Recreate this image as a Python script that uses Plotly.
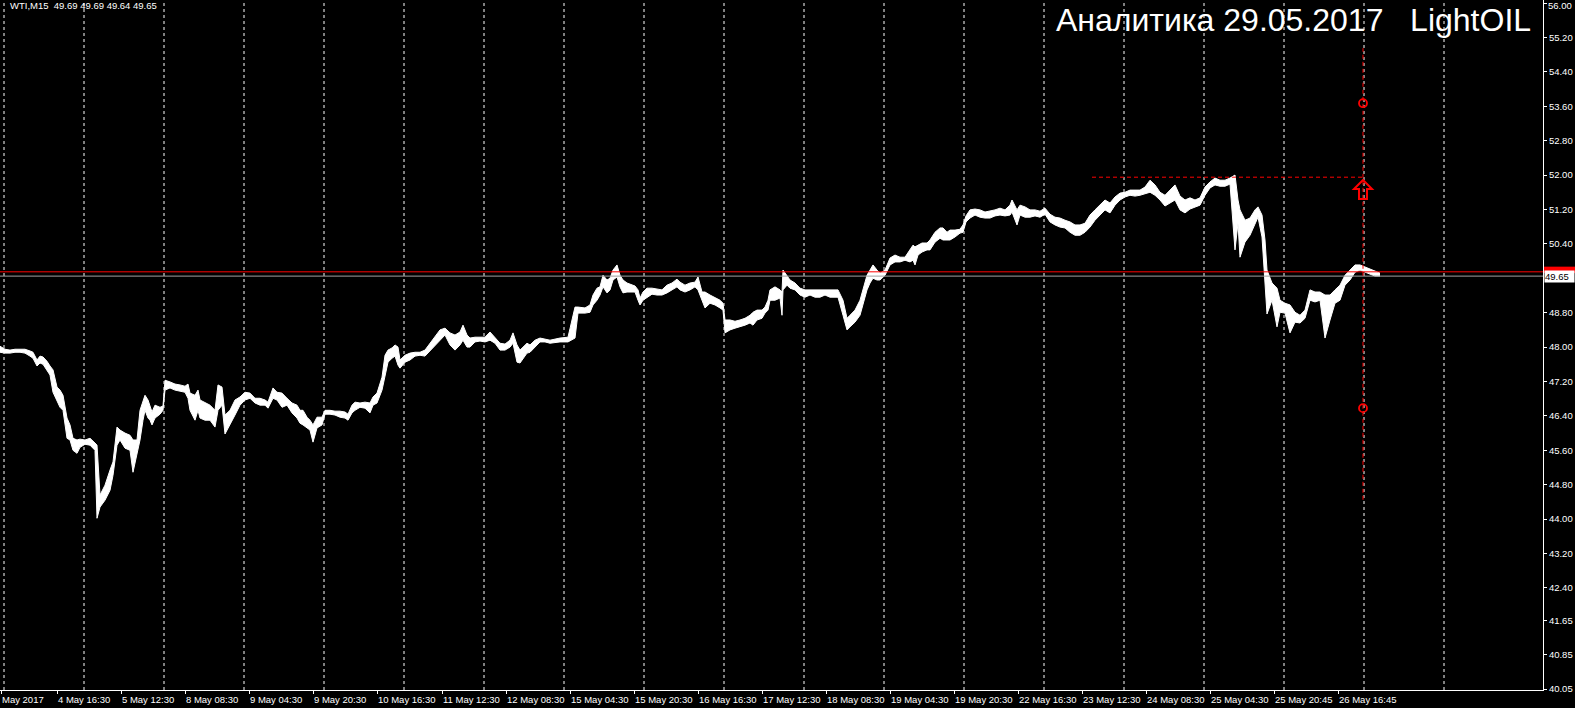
import plotly.graph_objects as go

# ---------------- data (bar index, high, low) ----------------
bar = [
    0, 5, 10, 15, 20, 25, 30, 33, 37, 40,
    43, 47, 50, 53, 57, 60, 63, 67, 70, 73,
    77, 80, 85, 90, 95, 97, 100, 105, 110, 113,
    117, 120, 125, 130, 133, 137, 140, 143, 145, 148,
    150, 152, 155, 160, 163, 165, 170, 175, 180, 185,
    188, 190, 195, 198, 200, 205, 210, 215, 218, 222,
    225, 230, 235, 240, 245, 250, 255, 260, 265, 268,
    273, 277, 282, 287, 292, 297, 300, 303, 307, 310,
    313, 317, 322, 325, 330, 335, 340, 345, 348, 352,
    355, 360, 365, 370, 373, 377, 382, 385, 388, 392,
    395, 398, 400, 405, 410, 415, 420, 425, 430, 435,
    440, 445, 450, 455, 460, 463, 467, 470, 475, 480,
    485, 490, 495, 500, 505, 510, 513, 517, 520, 523,
    527, 530, 535, 540, 545, 550, 560, 568, 575, 578,
    585, 590, 593, 597, 600, 603, 607, 610, 613, 617,
    620, 623, 627, 632, 635, 638, 640, 643, 647, 652,
    657, 662, 667, 672, 677, 680, 685, 690, 695, 698,
    702, 705, 710, 715, 720, 723, 725, 730, 735, 740,
    745, 750, 753, 757, 762, 765, 768, 770, 775, 780,
    782, 783, 787, 790, 795, 800, 805, 810, 815, 820,
    825, 830, 838, 843, 847, 850, 855, 860, 863, 867,
    870, 873, 877, 880, 885, 890, 895, 900, 905, 910,
    913, 915, 918, 922, 927, 930, 935, 940, 943, 947,
    950, 955, 960, 963, 966, 970, 975, 980, 985, 990,
    995, 1000, 1005, 1010, 1012, 1017, 1020, 1025, 1030, 1035,
    1040, 1045, 1050, 1055, 1060, 1065, 1070, 1075, 1080, 1085,
    1090, 1095, 1100, 1105, 1110, 1115, 1120, 1125, 1130, 1135,
    1140, 1145, 1150, 1155, 1160, 1165, 1170, 1175, 1180, 1185,
    1190, 1195, 1200, 1205, 1210, 1215, 1220, 1225, 1230, 1235,
    1238, 1240, 1245, 1250, 1255, 1258, 1262, 1265, 1267, 1272,
    1277, 1280, 1285, 1290, 1295, 1300, 1305, 1310, 1315, 1320,
    1325, 1330, 1335, 1340, 1345, 1350, 1355, 1360, 1365, 1370,
    1375, 1380,
]
high = [
    48.02, 47.95, 47.93, 47.95, 47.95, 47.95, 47.91, 47.88, 47.70, 47.79,
    47.77, 47.67, 47.56, 47.47, 47.07, 47.00, 46.88, 46.35, 46.19, 45.88,
    45.84, 45.86, 45.84, 45.88, 45.77, 45.72, 44.56, 44.79, 45.14, 45.33,
    46.14, 46.07, 46.00, 45.95, 45.84, 45.84, 46.53, 46.77, 46.88, 46.77,
    46.65, 46.49, 46.65, 46.60, 46.63, 47.23, 47.19, 47.14, 47.12, 47.09,
    47.14, 46.93, 46.88, 47.00, 46.77, 46.70, 46.65, 46.53, 47.12, 47.07,
    46.42, 46.53, 46.77, 46.84, 46.95, 46.93, 46.81, 46.81, 46.77, 46.72,
    47.05, 46.95, 46.93, 46.81, 46.70, 46.65, 46.53, 46.53, 46.37, 46.30,
    46.19, 46.37, 46.37, 46.53, 46.53, 46.51, 46.51, 46.49, 46.44, 46.65,
    46.72, 46.70, 46.72, 46.70, 46.84, 46.93, 47.30, 47.81, 47.93, 47.98,
    48.05, 48.00, 47.70, 47.81, 47.86, 47.88, 47.88, 47.93, 48.09, 48.23,
    48.40, 48.44, 48.33, 48.28, 48.35, 48.51, 48.28, 48.21, 48.23, 48.23,
    48.23, 48.35, 48.21, 48.09, 48.07, 48.16, 48.33, 48.05, 47.93, 48.00,
    48.09, 48.05, 48.16, 48.21, 48.19, 48.16, 48.21, 48.23, 48.93, 48.93,
    48.91, 48.98, 49.21, 49.37, 49.40, 49.67, 49.56, 49.60, 49.79, 49.91,
    49.67, 49.56, 49.49, 49.44, 49.42, 49.33, 49.14, 49.28, 49.37, 49.37,
    49.35, 49.33, 49.44, 49.49, 49.58, 49.51, 49.44, 49.49, 49.51, 49.63,
    49.28, 49.28, 49.21, 49.14, 49.09, 49.02, 48.63, 48.63, 48.60, 48.63,
    48.67, 48.74, 48.81, 48.86, 48.86, 48.93, 49.09, 49.33, 49.40, 49.33,
    49.28, 49.79, 49.67, 49.56, 49.49, 49.37, 49.33, 49.33, 49.33, 49.33,
    49.33, 49.33, 49.33, 49.09, 48.67, 48.74, 48.86, 49.09, 49.33, 49.67,
    49.79, 49.91, 49.79, 49.72, 49.79, 50.07, 50.14, 50.09, 50.09, 50.26,
    50.37, 50.33, 50.37, 50.42, 50.42, 50.49, 50.67, 50.77, 50.77, 50.67,
    50.72, 50.72, 50.74, 50.84, 51.05, 51.19, 51.21, 51.19, 51.14, 51.16,
    51.19, 51.23, 51.19, 51.30, 51.42, 51.19, 51.30, 51.26, 51.19, 51.19,
    51.16, 51.23, 51.09, 51.02, 51.00, 50.95, 50.91, 50.84, 50.84, 50.88,
    51.07, 51.19, 51.30, 51.42, 51.35, 51.49, 51.58, 51.60, 51.65, 51.65,
    51.65, 51.72, 51.88, 51.77, 51.60, 51.53, 51.65, 51.77, 51.51, 51.42,
    51.47, 51.42, 51.47, 51.72, 51.84, 51.93, 51.88, 51.88, 51.93, 52.00,
    51.42, 51.19, 50.95, 51.00, 51.19, 51.26, 51.07, 50.49, 49.79, 49.49,
    49.37, 49.09, 49.02, 48.98, 48.81, 48.74, 48.86, 49.33, 49.28, 49.28,
    49.21, 49.21, 49.33, 49.44, 49.67, 49.79, 49.91, 49.91, 49.86, 49.81,
    49.77, 49.72,
]
low = [
    47.88, 47.86, 47.86, 47.88, 47.88, 47.86, 47.79, 47.74, 47.56, 47.63,
    47.60, 47.47, 47.35, 46.95, 46.77, 46.60, 46.53, 45.88, 45.84, 45.60,
    45.53, 45.67, 45.74, 45.72, 45.60, 44.02, 44.28, 44.44, 44.67, 45.02,
    45.72, 45.84, 45.65, 45.60, 45.09, 45.49, 45.84, 46.30, 46.53, 46.35,
    46.30, 46.19, 46.35, 46.44, 46.53, 47.00, 47.05, 47.00, 46.98, 46.95,
    46.81, 46.53, 46.30, 46.53, 46.35, 46.30, 46.30, 46.14, 46.53, 46.65,
    45.98, 46.19, 46.42, 46.65, 46.77, 46.81, 46.70, 46.65, 46.65, 46.58,
    46.81, 46.77, 46.60, 46.65, 46.47, 46.35, 46.23, 46.19, 46.12, 46.07,
    45.79, 46.12, 46.19, 46.44, 46.44, 46.42, 46.37, 46.35, 46.30, 46.47,
    46.53, 46.60, 46.58, 46.47, 46.65, 46.70, 47.00, 47.30, 47.65, 47.74,
    47.79, 47.58, 47.51, 47.65, 47.70, 47.79, 47.81, 47.79, 47.91, 48.05,
    48.16, 48.28, 48.05, 47.93, 48.05, 48.16, 48.00, 48.00, 48.12, 48.14,
    48.12, 48.16, 48.09, 47.93, 47.93, 48.00, 48.09, 47.65, 47.63, 47.74,
    47.86, 47.88, 48.00, 48.12, 48.12, 48.09, 48.12, 48.12, 48.21, 48.79,
    48.79, 48.81, 48.98, 49.09, 49.21, 49.40, 49.26, 49.33, 49.56, 49.63,
    49.40, 49.26, 49.28, 49.28, 49.28, 49.09, 48.98, 49.09, 49.16, 49.23,
    49.21, 49.21, 49.26, 49.33, 49.40, 49.33, 49.28, 49.33, 49.40, 49.33,
    49.09, 48.91, 49.02, 48.98, 48.91, 48.86, 48.33, 48.40, 48.44, 48.47,
    48.51, 48.56, 48.51, 48.63, 48.67, 48.79, 48.86, 49.09, 49.09, 49.14,
    48.74, 49.33, 49.44, 49.37, 49.33, 49.21, 49.16, 49.21, 49.16, 49.16,
    49.21, 49.16, 49.16, 48.74, 48.40, 48.47, 48.58, 48.74, 48.98, 49.33,
    49.49, 49.60, 49.56, 49.56, 49.67, 49.91, 49.98, 49.98, 50.02, 49.98,
    50.02, 49.91, 50.14, 50.21, 50.26, 50.26, 50.44, 50.53, 50.49, 50.49,
    50.49, 50.56, 50.65, 50.67, 50.91, 51.00, 51.07, 51.02, 51.00, 51.00,
    51.05, 51.07, 51.05, 51.07, 51.14, 50.84, 51.07, 51.02, 51.02, 51.05,
    51.02, 51.09, 50.91, 50.84, 50.79, 50.77, 50.67, 50.60, 50.60, 50.67,
    50.79, 50.95, 51.07, 51.19, 51.12, 51.30, 51.42, 51.49, 51.53, 51.51,
    51.53, 51.56, 51.60, 51.53, 51.42, 51.28, 51.35, 51.42, 51.19, 51.12,
    51.21, 51.26, 51.30, 51.53, 51.70, 51.77, 51.74, 51.74, 51.79, 50.26,
    50.88, 50.09, 50.44, 50.60, 50.84, 51.02, 50.56, 49.56, 48.77, 49.09,
    48.47, 48.81, 48.79, 48.33, 48.58, 48.56, 48.67, 49.09, 49.05, 49.09,
    48.21, 48.63, 49.02, 49.09, 49.44, 49.56, 49.74, 49.79, 49.74, 49.70,
    49.65, 49.65,
]
assert len(bar) == len(high) == len(low)

# time-axis labels and the bar index where each starts
time_labels = ["May 2017", "4 May 16:30", "5 May 12:30", "8 May 08:30", "9 May 04:30",
               "9 May 20:30", "10 May 16:30", "11 May 12:30", "12 May 08:30",
               "15 May 04:30", "15 May 20:30", "16 May 16:30", "17 May 12:30",
               "18 May 08:30", "19 May 04:30", "19 May 20:30", "22 May 16:30",
               "23 May 12:30", "24 May 08:30", "25 May 04:30", "25 May 20:45",
               "26 May 16:45"]
time_label_bars = [1, 57, 121, 185, 249, 313, 377, 442, 506, 570, 634, 698, 762,
                   826, 890, 954, 1018, 1082, 1146, 1210, 1274, 1338]

# price-axis ticks (the top one is labelled separately so it stays on screen)
top_tick = 56.00
price_ticks = [55.20, 54.40, 53.60, 52.80, 52.00, 51.20, 50.40,
               48.80, 48.00, 47.20, 46.40, 45.60, 44.80, 44.00, 43.20,
               42.40, 41.65, 40.85, 40.05]

# levels / objects drawn on the chart
bid_price = 49.65
red_level = 49.75
resistance = 51.95
resistance_from_bar = 1092
marker_bar = 1363
marker_top, marker_bottom = 54.95, 44.45
target_up = 53.67
target_down = 46.58
arrow_price = 51.70
header_text = "WTI,M15  49.69 49.69 49.64 49.65"
title_text = "Аналитика 29.05.2017\u00a0\u00a0\u00a0LightOIL"

# ---------------- figure ----------------
W, H = 1575, 708
PLOT_W, PLOT_H = 1543, 690
FONT = "Liberation Sans, Arial, sans-serif"

fig = go.Figure()

fig.add_trace(go.Scatter(x=bar, y=low, mode="lines",
                         line=dict(color="white", width=1),
                         hoverinfo="skip", showlegend=False))
fig.add_trace(go.Scatter(x=bar, y=high, mode="lines", fill="tonexty",
                         fillcolor="white", line=dict(color="white", width=1),
                         hoverinfo="skip", showlegend=False))

# red target markers on the vertical line
fig.add_trace(go.Scatter(x=[marker_bar, marker_bar], y=[target_up, target_down],
                         mode="markers",
                         marker=dict(symbol="circle-open", size=8, color="red",
                                     line=dict(color="red", width=1.8)),
                         hoverinfo="skip", showlegend=False))

shapes = []
# dashed vertical grid
for k in range(19):
    gx = 4 + 80 * k
    shapes.append(dict(type="line", xref="x", yref="paper", x0=gx, x1=gx, y0=0, y1=1,
                       line=dict(color="white", width=1, dash="3px,3px"), layer="below"))
# bid line and red level line
shapes.append(dict(type="line", xref="paper", yref="y", x0=0, x1=1, y0=bid_price, y1=bid_price,
                   line=dict(color="#a0a0a0", width=1)))
shapes.append(dict(type="line", xref="paper", yref="y", x0=0, x1=1, y0=red_level, y1=red_level,
                   line=dict(color="red", width=1)))
# red dashed resistance line
shapes.append(dict(type="line", xref="x", yref="y", x0=resistance_from_bar, x1=marker_bar,
                   y0=resistance, y1=resistance,
                   line=dict(color="red", width=1, dash="4px,3px")))
# red dashed vertical marker
shapes.append(dict(type="line", xref="x", yref="y", x0=marker_bar, x1=marker_bar,
                   y0=marker_bottom, y1=marker_top,
                   line=dict(color="red", width=1, dash="4px,3px")))
# hollow up-arrow (pixel-sized glyph anchored on the marker line)
shapes.append(dict(type="path", xref="x", yref="y", xsizemode="pixel", ysizemode="pixel",
                   xanchor=marker_bar, yanchor=arrow_price,
                   path="M0,8 L-9,-1 L-4,-1 L-4,-11 L4,-11 L4,-1 L9,-1 Z",
                   line=dict(color="red", width=2), fillcolor="rgba(0,0,0,0)"))
# red price box on the axis (mostly hidden behind the bid label)
shapes.append(dict(type="rect", xref="paper", yref="y", x0=1.0007, x1=W / PLOT_W,
                   y0=red_level - 0.03, y1=red_level + 0.12,
                   fillcolor="red", line=dict(width=0)))

annotations = []
# time labels (left-aligned at their bar, like the terminal)
for lbl, b in zip(time_labels, time_label_bars):
    annotations.append(dict(x=b, y=0, xref="x", yref="paper", text=lbl, showarrow=False,
                            xanchor="left", yanchor="top", yshift=-2, xshift=-1,
                            font=dict(family=FONT, size=9.5, color="white")))
# top price label kept inside the window
annotations.append(dict(x=1, y=1, xref="paper", yref="paper", text=f"{top_tick:.2f}",
                        showarrow=False, xanchor="left", yanchor="top", xshift=4, yshift=1,
                        borderpad=0, font=dict(family=FONT, size=9.5, color="white")))
# header text
annotations.append(dict(x=8 / PLOT_W, y=1, xref="paper", yref="paper", text=header_text,
                        showarrow=False, xanchor="left", yanchor="top", yshift=2,
                        font=dict(family=FONT, size=9.5, color="white")))
# big title
annotations.append(dict(x=1533 / PLOT_W, y=1 - 20 / PLOT_H, xref="paper", yref="paper",
                        text=title_text, showarrow=False, xanchor="right", yanchor="middle",
                        font=dict(family=FONT, size=32, color="white")))
# bid price label on the axis
annotations.append(dict(x=1, y=bid_price, xref="paper", yref="y", text=f"{bid_price:.2f}\u00a0\u00a0",
                        showarrow=False, xanchor="left", yanchor="middle", xshift=1,
                        bgcolor="white", borderpad=0,
                        font=dict(family=FONT, size=9.5, color="black")))

fig.update_layout(
    width=W, height=H,
    margin=dict(l=0, r=W - PLOT_W, t=0, b=H - PLOT_H),
    paper_bgcolor="black", plot_bgcolor="black",
    showlegend=False,
    shapes=shapes, annotations=annotations,
    xaxis=dict(range=[0, PLOT_W], showgrid=False, zeroline=False,
               showline=True, linecolor="white", linewidth=1,
               ticks="outside", ticklen=3, tickcolor="white",
               tickvals=time_label_bars, showticklabels=False, fixedrange=True),
    yaxis=dict(range=[40.027, 56.07], side="right", showgrid=False, zeroline=False,
               showline=True, linecolor="white", linewidth=1,
               ticks="outside", ticklen=3, tickcolor="white",
               tickvals=[top_tick] + price_ticks,
               ticktext=[""] + [f"{p:.2f}" for p in price_ticks],
               tickfont=dict(family=FONT, size=9.5, color="white"),
               automargin=False, fixedrange=True),
)

fig.write_html("out.html", config={"displayModeBar": False})
